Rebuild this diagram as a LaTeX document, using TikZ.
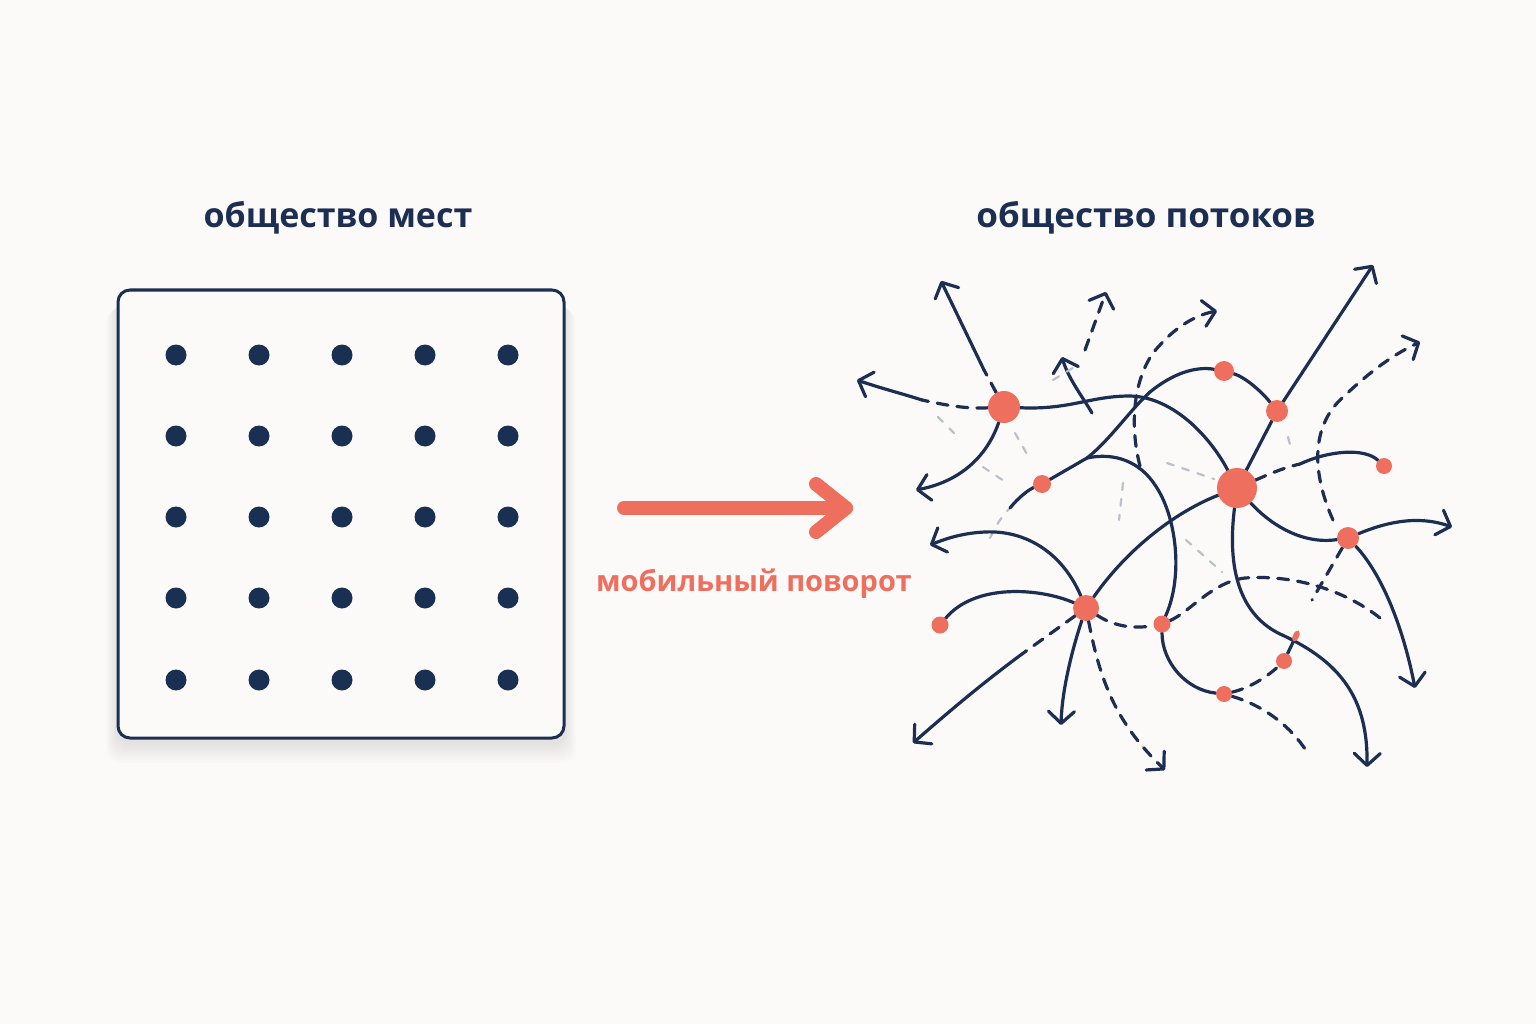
\documentclass[tikz,border=0pt]{standalone}
\usepackage{fontspec}
\setmainfont{Open Sans}
\usetikzlibrary{arrows.meta,shapes.geometric}
\definecolor{navy}{HTML}{1C2E52}
\definecolor{dotc}{HTML}{1A3052}
\definecolor{accent}{HTML}{EF6F5E}
\definecolor{bgc}{HTML}{FBFAF8}
\pgfdeclarelayer{fg}
\pgfsetlayers{main,fg}
\begin{document}
\begin{tikzpicture}[x=1pt,y=-1pt,
 flow/.style={draw=navy,line width=3.2pt,line cap=round},
 dsh/.style={flow,dash pattern=on 11pt off 9pt},
 faint/.style={draw=navy!30,line width=2.2pt,line cap=round,dash pattern=on 7pt off 9pt},
 tip/.style={-{Straight Barb[round,length=12pt,width=26pt]}},
 hub/.style={circle,fill=accent,inner sep=0pt,minimum size=#1},
 dot/.style={circle,fill=dotc,inner sep=0pt,minimum size=21pt},
 title/.style={font=\fontsize{34}{40}\selectfont\bfseries,text=navy}]
\useasboundingbox (0,0) rectangle (1536,1024);
\fill[bgc] (0,0) rectangle (1536,1024);

% ---------- titles ----------
\node[title,xscale=1.0] (tl) at (338,218) {общество мест};
\node[title,xscale=1.03] (tr) at (1146,218) {общество потоков};

% ---------- left panel ----------
\foreach \k in {1,...,8}{
  \fill[black,opacity=0.012,rounded corners=14pt] (118-\k*1.5,296+\k*1.6) rectangle (564+\k*1.5,742+\k*2.6);
}
\node[draw=navy,fill=bgc,line width=3pt,rounded corners=12pt,minimum width=446pt,minimum height=448pt] (panel) at (341,514) {};
\foreach \i/\x in {1/176,2/259,3/342,4/425,5/508}{
  \foreach \j/\y in {1/355,2/436,3/517,4/598,5/680}{
    \node[dot] (d\i\j) at (\x,\y) {};
  }
}

% ---------- mobile turn arrow ----------
\coordinate (ms) at (624,508);
\coordinate (me) at (846,508);
\coordinate (mh1) at (816,484);
\coordinate (mh2) at (816,532);
\draw[accent,line width=14pt,line cap=round] (ms) -- (me);
\draw[accent,line width=14pt,line cap=round,line join=round] (mh1) -- (me) -- (mh2);
\node[font=\fontsize{29}{34}\selectfont\bfseries,text=accent] (lab) at (754,584) {мобильный поворот};

% ---------- network nodes ----------
\begin{pgfonlayer}{fg}
\node[hub=32pt] (A) at (1004,407) {};
\node[hub=40pt] (B) at (1237,488) {};
\node[hub=20pt] (C) at (1224,371) {};
\node[hub=22pt] (D) at (1277,411) {};
\node[hub=18pt] (E) at (1042,484) {};
\node[hub=16pt] (F) at (1384,466) {};
\node[hub=22pt] (G) at (1348,538) {};
\node[hub=26pt] (H) at (1086,608) {};
\node[hub=17pt] (I) at (1162,624) {};
\node[hub=17pt] (J) at (940,625) {};
\node[hub=16pt] (K) at (1284,661) {};
\node[hub=16pt] (L) at (1224,694) {};
\node[ellipse,fill=accent,inner sep=0pt,minimum width=6pt,minimum height=12pt,rotate=-25] (M) at (1296,636) {};
\end{pgfonlayer}

% free ends
\coordinate (tA1) at (941,281);
\coordinate (mA1) at (984,370);
\coordinate (tA2) at (857,380);
\coordinate (mA2) at (922,400);
\coordinate (tA3) at (916,490);
\coordinate (s6) at (1092,413);
\coordinate (t6) at (1062,357);
\coordinate (s7) at (1085,350);
\coordinate (t7) at (1106,292);
\coordinate (s8) at (1140,466);
\coordinate (t8) at (1217,311);
\coordinate (P) at (1087,458);
\coordinate (sE) at (990,538);
\coordinate (mE) at (1010,508);
\coordinate (tD) at (1373,265);
\coordinate (tB) at (1367,767);
\coordinate (mB) at (1300,464);
\coordinate (tG1) at (1452,527);
\coordinate (tG2) at (1415,688);
\coordinate (eG) at (1312,600);
\coordinate (s16) at (1333,520);
\coordinate (t16) at (1420,342);
\coordinate (tH1) at (930,545);
\coordinate (tH2) at (913,743);
\coordinate (mH2) at (1022,654);
\coordinate (tH3) at (1061,725);
\coordinate (tH4) at (1165,770);
\coordinate (e10) at (1380,618);
\coordinate (eL) at (1307,752);

% ---------- from A ----------
\draw[flow] (A) .. controls (1070,410) and (1090,396) .. (1130,396) .. controls (1175,397) and (1212,440) .. (B);
\draw[dsh] (A) -- (mA1);
\draw[flow,tip] (mA1) -- (tA1);
\draw[dsh] (A) .. controls (965,409) and (945,405) .. (mA2);
\draw[flow,tip] (mA2) .. controls (900,393) and (880,388) .. (tA2);
\draw[flow,tip] (A) .. controls (990,448) and (968,480) .. (tA3);

% short arrows top
\draw[flow,tip] (s6) .. controls (1082,396) and (1068,378) .. (t6);
\draw[dsh,tip] (s7) -- (t7);
\draw[dsh,tip] (s8) .. controls (1128,420) and (1135,370) .. (1160,345) .. controls (1175,328) and (1195,315) .. (t8);

% E - C - D chain
\draw[faint] (sE) .. controls (996,525) and (1002,516) .. (mE);
\draw[flow] (mE) .. controls (1018,498) and (1028,490) .. (E);
\draw[flow] (E) -- (P);
\draw[flow] (P) .. controls (1110,440) and (1130,410) .. (1150,392) .. controls (1172,374) and (1195,366) .. (C);
\draw[flow] (C) .. controls (1245,377) and (1262,392) .. (D);
\draw[flow,tip] (D) -- (tD);
\draw[flow] (D) -- (B);
\draw[flow] (P) .. controls (1115,452) and (1140,462) .. (1155,485) .. controls (1176,515) and (1184,575) .. (I);

% from B
\draw[flow] (B) .. controls (1180,510) and (1130,545) .. (H);
\draw[flow,tip] (B) .. controls (1228,560) and (1235,612) .. (1280,634) .. controls (1342,662) and (1368,700) .. (tB);
\draw[flow] (B) .. controls (1268,522) and (1300,545) .. (G);
\draw[flow,tip] (G) .. controls (1382,524) and (1415,514) .. (tG1);
\draw[flow,tip] (G) .. controls (1380,572) and (1402,622) .. (tG2);
\draw[dsh] (G) -- (eG);
\draw[dsh] (B) .. controls (1265,476) and (1282,468) .. (mB);
\draw[flow] (mB) .. controls (1330,450) and (1365,448) .. (F);
\draw[dsh,tip] (s16) .. controls (1315,480) and (1308,432) .. (1340,400) .. controls (1365,376) and (1390,356) .. (t16);

% from H
\draw[flow,tip] (H) .. controls (1062,552) and (1025,530) .. (985,532) .. controls (962,533) and (945,539) .. (tH1);
\draw[flow] (H) .. controls (1040,588) and (975,583) .. (J);
\draw[dsh] (H) -- (mH2);
\draw[flow,tip] (mH2) .. controls (980,685) and (945,715) .. (tH2);
\draw[flow,tip] (H) .. controls (1072,650) and (1062,690) .. (tH3);
\draw[dsh,tip] (H) .. controls (1100,680) and (1115,722) .. (tH4);
\draw[dsh] (H) .. controls (1115,627) and (1135,629) .. (I);

% from I, L, K
\draw[dsh] (I) .. controls (1190,612) and (1212,582) .. (1245,578) .. controls (1300,574) and (1350,594) .. (e10);
\draw[flow] (I) .. controls (1162,662) and (1186,690) .. (L);
\draw[dsh] (L) .. controls (1250,688) and (1268,676) .. (K);
\draw[flow] (K) -- (M);
\draw[dsh] (L) .. controls (1262,705) and (1290,725) .. (eL);

% faint traces
\draw[faint] (938,417) -- (954,433);
\draw[faint] (1015,433) -- (1028,456);
\draw[faint] (983,467) -- (1004,481);
\draw[faint] (1053,380) -- (1076,366);
\draw[faint] (1123,483) -- (1119,520);
\draw[faint] (1167,463) -- (1214,479);
\draw[faint] (1186,540) -- (1222,572);
\draw[faint] (1288,437) -- (1292,452);
\end{tikzpicture}
\end{document}
